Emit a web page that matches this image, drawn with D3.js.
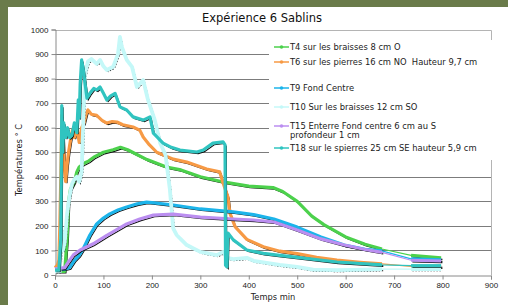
<!DOCTYPE html>
<html>
<head>
<meta charset="utf-8">
<script src="https://cdn.jsdelivr.net/npm/d3@7"></script>
<style>
  body { margin: 0; background: #6a7b4a; }
  svg { display: block; font-family: "DejaVu Sans", Verdana, sans-serif; }
  text { white-space: pre; }
</style>
</head>
<body>
<div id="chart"></div>
<script>
const names = [
  "T4 sur les braisses 8 cm O",
  "T6 sur les pierres 16 cm NO  Hauteur 9,7 cm",
  "T9 Fond Centre",
  "T10 Sur les braisses 12 cm SO",
  "T15 Enterre Fond centre 6 cm au S|profondeur 1 cm",
  "T18 sur le spierres 25 cm SE hauteur 5,9 cm",
];
const colors = ["#4cd14c", "#f79a45", "#1cb4ea", "#c4f8f8", "#bb8ef0", "#30c4c0"];

// [temps min, température]
const t4 = [[0,15],[20,15],[25,150],[28,300],[32,350],[40,380],[45,420],[50,440],[60,455],[70,465],[80,480],[90,490],[100,500],[110,505],[120,510],[135,520],[150,510],[170,490],[190,470],[210,455],[230,440],[260,428],[300,400],[350,378],[400,362],[450,356],[470,340],[500,300],[530,240],[555,205],[600,155],[640,125],[675,106],[735,80],[797,70]];
const t6 = [[0,30],[5,40],[8,60],[10,200],[12,400],[14,650],[16,600],[18,500],[20,420],[22,380],[25,450],[28,500],[32,550],[36,590],[40,560],[45,600],[50,540],[55,600],[60,620],[65,660],[68,672],[75,655],[86,650],[97,630],[107,619],[118,625],[128,623],[140,612],[161,603],[175,590],[182,562],[195,530],[210,500],[244,472],[272,460],[313,432],[340,420],[347,375],[357,318],[361,252],[372,196],[396,145],[430,115],[464,97],[500,87],[540,72],[582,61],[630,52],[675,45],[735,35],[797,33]];
const t9 = [[0,25],[20,25],[30,30],[40,60],[50,80],[58,106],[72,163],[86,208],[100,232],[113,249],[130,265],[148,277],[170,290],[189,297],[200,295],[244,285],[300,269],[368,257],[410,246],[452,228],[500,195],[549,155],[597,122],[640,105],[675,98],[735,66],[797,62]];
const t10 = [[0,15],[10,15],[13,190],[16,100],[20,130],[25,250],[30,320],[35,370],[40,390],[45,400],[50,380],[55,420],[58,600],[62,820],[68,870],[75,880],[86,860],[93,876],[100,850],[107,835],[120,848],[130,900],[134,970],[138,929],[148,876],[159,848],[169,766],[182,794],[192,713],[206,631],[217,538],[228,490],[237,350],[244,190],[251,163],[272,122],[300,94],[334,81],[347,94],[355,70],[368,65],[396,70],[410,58],[464,41],[500,33],[533,22],[582,20],[640,22],[675,24],[735,24],[797,24]];
const t15 = [[0,25],[20,30],[25,45],[38,82],[52,102],[79,127],[107,161],[148,208],[175,228],[203,244],[244,248],[300,236],[368,228],[410,224],[452,216],[500,183],[549,147],[597,122],[640,104],[675,92],[735,60],[797,57]];
const t18 = [[0,20],[8,20],[12,150],[14,690],[16,500],[18,620],[22,560],[26,600],[30,560],[35,570],[40,620],[45,580],[48,713],[50,640],[52,780],[55,876],[58,840],[62,780],[66,720],[72,740],[80,760],[86,754],[93,766],[100,740],[107,713],[115,730],[124,740],[134,685],[148,672],[161,644],[182,631],[196,644],[203,578],[223,537],[240,520],[258,509],[293,501],[306,509],[326,537],[347,542],[351,530],[352,40],[355,33],[357,171],[368,143],[396,102],[430,88],[464,80],[500,72],[582,53],[675,41],[735,38],[797,38]];
const series = [t4, t6, t9, t10, t15, t18];

const xTicks = [0, 100, 200, 300, 400, 500, 600, 700, 800, 900];
const yTicks = [0, 100, 200, 300, 400, 500, 600, 700, 800, 900, 1000];

const W = 508, H = 305;
const svg = d3.select("#chart").append("svg").attr("width", W).attr("height", H);

svg.append("rect").attr("x", 8).attr("y", 7).attr("width", W - 8).attr("height", H - 7).attr("fill", "#fff");

const x = d3.scaleLinear().domain([0, 900]).range([55, 491]);
const y = d3.scaleLinear().domain([0, 1000]).range([275, 29.5]);

// grid
svg.append("g").selectAll("line").data(yTicks.slice(1, -1)).join("line")
  .attr("x1", x(0)).attr("x2", x(900))
  .attr("y1", (d) => Math.round(y(d)) + 0.5).attr("y2", (d) => Math.round(y(d)) + 0.5)
  .attr("stroke", "#7c7c7c");

// frame top / right
svg.append("path")
  .attr("d", `M${x(0)},${Math.round(y(1000)) + 0.5}H${Math.round(x(900)) + 0.5}V${y(0)}`)
  .attr("fill", "none").attr("stroke", "#b4b4b4");

// axes
svg.append("g").attr("transform", `translate(0,${Math.round(y(0)) + 0.5})`)
  .call(d3.axisBottom(x).tickValues(xTicks).tickFormat(d3.format("d")).tickSize(4).tickPadding(3))
  .call((g) => g.select(".domain").attr("stroke", "#8a8a8a"))
  .call((g) => g.selectAll("line").attr("stroke", "#8a8a8a"))
  .call((g) => g.selectAll("text").attr("font-size", 8).attr("fill", "#222"));

svg.append("g").attr("transform", `translate(${Math.round(x(0)) + 0.5},0)`)
  .call(d3.axisLeft(y).tickValues(yTicks).tickFormat(d3.format("d")).tickSize(4).tickPadding(3))
  .call((g) => g.select(".domain").attr("stroke", "#8a8a8a"))
  .call((g) => g.selectAll("line").attr("stroke", "#8a8a8a"))
  .call((g) => g.selectAll("text").attr("font-size", 8).attr("fill", "#222"));

// lines
const line = d3.line().x((d) => x(d[0])).y((d) => y(d[1]));
const plot = svg.append("g");

// logging gap between 675 and 735 min: drawn thin only
function segments(data) {
  const segs = [[data[0]]];
  for (let k = 1; k < data.length; k++) {
    if (data[k - 1][0] <= 680 && data[k][0] >= 730) segs.push([]);
    segs[segs.length - 1].push(data[k]);
  }
  return segs;
}

series.forEach((data, s) => {
  const segs = segments(data);
  plot.append("path").attr("d", line(data))
    .attr("fill", "none").attr("stroke", colors[s]).attr("stroke-width", 1.2);
  segs.forEach((seg) => {
    plot.append("path").attr("d", line(seg))
      .attr("transform", "translate(1.3,1.6)")
      .attr("fill", "none").attr("stroke", "#111").attr("stroke-width", 1.1)
      .attr("stroke-dasharray", s === 3 ? "1.5,1.5" : null);
    plot.append("path").attr("d", line(seg))
      .attr("fill", "none").attr("stroke", colors[s]).attr("stroke-width", s === 3 ? 3.8 : 3.2)
      .attr("stroke-linejoin", "round");
  });
});

// title
svg.append("text").attr("x", 262).attr("y", 22).attr("text-anchor", "middle")
  .attr("font-size", 11.5).attr("fill", "#111").text("Expérience 6 Sablins");

svg.append("text").attr("transform", "translate(22,160) rotate(-90)")
  .attr("text-anchor", "middle").attr("font-size", 8.3).attr("fill", "#222")
  .text("Températures ° C");

svg.append("text").attr("x", 273).attr("y", 300).attr("text-anchor", "middle")
  .attr("font-size", 8.3).attr("fill", "#222").text("Temps min");

// legend
const legend = svg.append("g");
legend.append("rect").attr("x", 269).attr("y", 40).attr("width", W - 269).attr("height", 120).attr("fill", "#fff");
const legY = [47, 62, 88, 107, 126, 148];
names.forEach((n, s) => {
  const g = legend.append("g").attr("transform", `translate(274,${legY[s]})`);
  g.append("line").attr("x1", 0).attr("x2", 15).attr("stroke", colors[s]).attr("stroke-width", 1.5);
  g.append("circle").attr("cx", 7.5).attr("r", 1.8).attr("fill", colors[s]);
  const parts = n.split("|");
  const fs = 8.4;
  if (parts.length === 1) {
    g.append("text").attr("x", 16).attr("y", 3).attr("font-size", fs).attr("fill", "#222").text(n);
  } else {
    g.append("text").attr("x", 16).attr("y", 3).attr("font-size", fs).attr("fill", "#222").text(parts[0]);
    g.append("text").attr("x", 16).attr("y", 12).attr("font-size", fs).attr("fill", "#222").text(parts[1]);
  }
});
</script>
</body>
</html>
